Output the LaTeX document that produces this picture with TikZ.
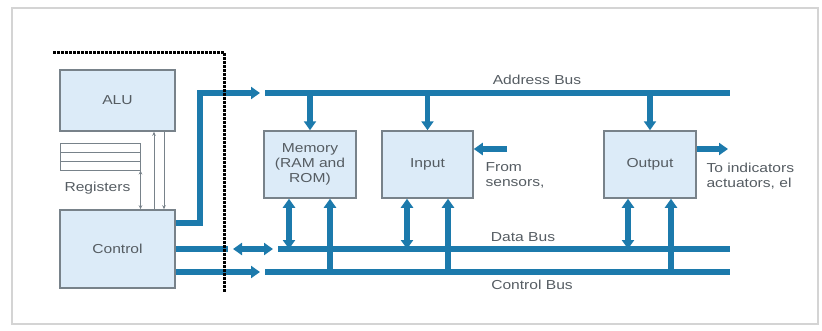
\documentclass[tikz,border=0pt]{standalone}
\usepackage{fontspec}
\setmainfont{Liberation Sans}[FakeStretch=1.2]
\usetikzlibrary{arrows.meta,positioning}
\definecolor{busblue}{RGB}{28,122,172}
\definecolor{boxfill}{RGB}{220,235,248}
\definecolor{boxline}{RGB}{120,130,138}
\definecolor{labelgray}{RGB}{85,92,98}
\definecolor{framegray}{RGB}{212,212,212}

\begin{document}
\begin{tikzpicture}[x=1pt,y=-1pt,font=\fontsize{13}{15}\selectfont,text=labelgray]
  \tikzstyle{unit} = [rectangle, draw=boxline, line width=1.5pt, fill=boxfill, align=center, inner sep=0pt]
  \tikzstyle{bus} = [line width=5.5pt, draw=busblue]
  \tikzstyle{tip} = [-{Triangle[width=12pt,length=9pt]}]
  \tikzstyle{tips} = [{Triangle[width=12pt,length=9pt]}-{Triangle[width=12pt,length=9pt]}]
  \tikzstyle{wire} = [draw=boxline, line width=0.9pt, -{Stealth[length=4pt,width=3.5pt]}]
  \tikzstyle{wires} = [draw=boxline, line width=0.9pt, {Stealth[length=4pt,width=3.5pt]}-{Stealth[length=4pt,width=3.5pt]}]

  \useasboundingbox (0,0) rectangle (822,330);
  \draw[framegray, line width=2pt] (12,8) rectangle (818,324);

  % processor side
  \node[unit, minimum width=115pt, minimum height=61pt] (alu) at (117.5,100.5) {ALU};
  \node[unit, minimum width=115pt, minimum height=78pt] (control) at (117.5,249) {Control};
  \node[rectangle, draw=boxline, line width=1pt, fill=white, minimum width=80pt, minimum height=27pt] (regs) at (100,156.5) {};
  \draw[boxline, line width=1pt] (60,152) -- (140,152) (60,161) -- (140,161);
  \node[anchor=west] (reglabel) at (61,188) {Registers};

  \draw[wires] (regs.south east) -- (regs.south east |- control.north);
  \draw[wire] ([xshift=36.5pt]control.north) -- ([xshift=36.5pt]alu.south);
  \draw[wire] ([xshift=46.5pt]alu.south) -- ([xshift=46.5pt]control.north);

  % memory and i/o
  \node[unit, minimum width=92pt, minimum height=67pt] (memory) at (310,164.5) {Memory\\(RAM and\\ROM)};
  \node[unit, minimum width=91pt, minimum height=67pt] (input) at (427.5,164.5) {Input};
  \node[unit, minimum width=92pt, minimum height=67pt] (output) at (650,164.5) {Output};

  % buses
  \coordinate (ab-in) at (260,93);
  \coordinate (ab-w) at (265,93);
  \coordinate (ab-e) at (730,93);
  \coordinate (db-cut) at (228,249);
  \coordinate (da-w) at (233,249);
  \coordinate (da-e) at (273,249);
  \coordinate (db-w) at (278,249);
  \coordinate (db-e) at (730,249);
  \coordinate (cb-in) at (260,272);
  \coordinate (cb-w) at (265,272);
  \coordinate (cb-e) at (730,272);

  \draw[bus] (ab-w) -- (ab-e);
  \draw[bus] (db-w) -- (db-e);
  \draw[bus] (cb-w) -- (cb-e);

  \draw[bus,tip] ([yshift=26pt]control.east) -- ++(24,0) |- (ab-in);
  \draw[bus] (control.east) -- (db-cut);
  \draw[bus,tips] (da-w) -- (da-e);
  \draw[bus,tip] ([yshift=-23pt]control.east) -- (cb-in);

  \foreach \u/\dx/\ux in {memory/-21/20, input/-20.5/20.5, output/-22/21} {
    \coordinate (\u-d) at ([xshift=\dx pt]\u.south);
    \coordinate (\u-u) at ([xshift=\ux pt]\u.south);
    \draw[bus,tip] (\u.north |- ab-w) -- (\u.north);
    \draw[bus,tips] (\u-d) -- (\u-d |- db-w);
    \draw[bus,tip] (\u-u |- cb-w) -- (\u-u);
  }

  \coordinate (sens) at (507,149);
  \coordinate (act) at (728,149);
  \draw[bus,tip] (sens) -- (input.east |- sens);
  \draw[bus,tip] (output.east |- act) -- (act);

  % labels
  \node (ablabel) at (537,80) {Address Bus};
  \node (dblabel) at (523,237) {Data Bus};
  \node (cblabel) at (532,285) {Control Bus};
  \node[anchor=west, align=left] (senslabel) at (482,175) {From\\sensors,};
  \node[anchor=west, align=left] (actlabel) at (703,176) {To indicators\\actuators, el};

  % chip boundary
  \draw[black, line width=3pt, dash pattern=on 2.5pt off 1.5pt] (53,52) -- (224,52) -- (224,293);
\end{tikzpicture}
\end{document}
